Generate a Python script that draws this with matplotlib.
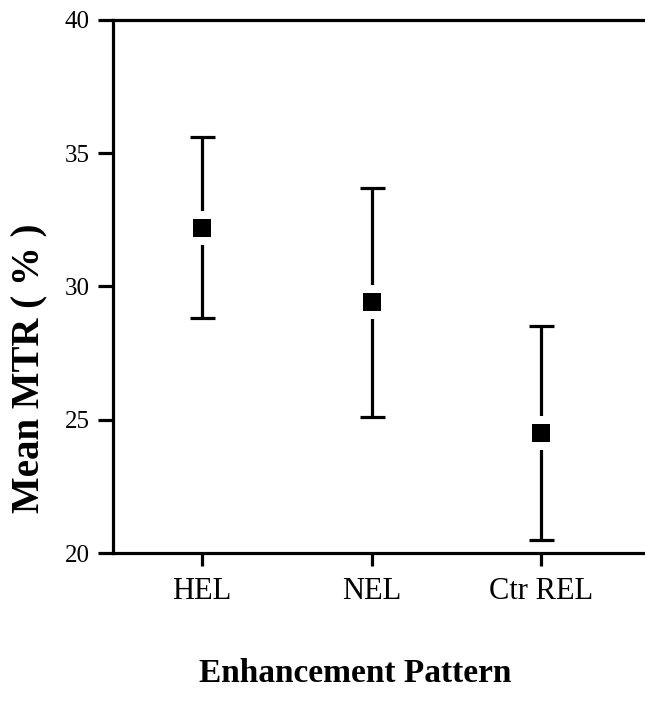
import matplotlib
matplotlib.use("Agg")
import matplotlib.pyplot as plt
import numpy as np

categories = ["HEL", "NEL", "Ctr REL"]
means = [32.2, 29.4, 24.5]
lower = [28.8, 25.1, 20.5]
upper = [35.6, 33.7, 28.5]
yticks = [20, 25, 30, 35, 40]

plt.rcParams['font.family'] = ['Liberation Serif', 'DejaVu Serif']

fig = plt.figure(figsize=(6.45, 7.08), dpi=100)
ax = fig.add_axes([113/645, 1-553/708, 1-113/645, (553-20)/708])

x = np.arange(len(categories))
m = np.array(means)
err = np.vstack([m - np.array(lower), np.array(upper) - m])

ax.errorbar(x, m, yerr=err, fmt='none', ecolor='black', elinewidth=2.3,
            capsize=9, capthick=2.3, zorder=2)
ax.plot(x, m, linestyle='none', marker='s', markersize=24, color='white',
        markeredgewidth=0, zorder=3)
ax.plot(x, m, linestyle='none', marker='s', markersize=12.5, color='black',
        markeredgewidth=0, zorder=4)

ax.set_xlim(-0.525, 2.61)
ax.set_ylim(20, 40)
ax.set_yticks(yticks)
ax.set_xticks(x)
ax.set_xticklabels(categories)

for s in ['left', 'bottom', 'top']:
    ax.spines[s].set_linewidth(2.3)
ax.spines['right'].set_visible(False)

ax.tick_params(axis='y', direction='out', length=11, width=2.3, pad=6, labelsize=18)
ax.tick_params(axis='x', direction='out', length=9, width=2.3, pad=8, labelsize=22)

fig.text(30/645, 1-368/708, "Mean MTR ( % )", fontsize=28, fontweight='bold',
         rotation=90, ha='center', va='center')
fig.text(355/645, 1-673/708, "Enhancement Pattern", fontsize=24, fontweight='bold',
         ha='center', va='center')

fig.savefig("out.png", dpi=100)
